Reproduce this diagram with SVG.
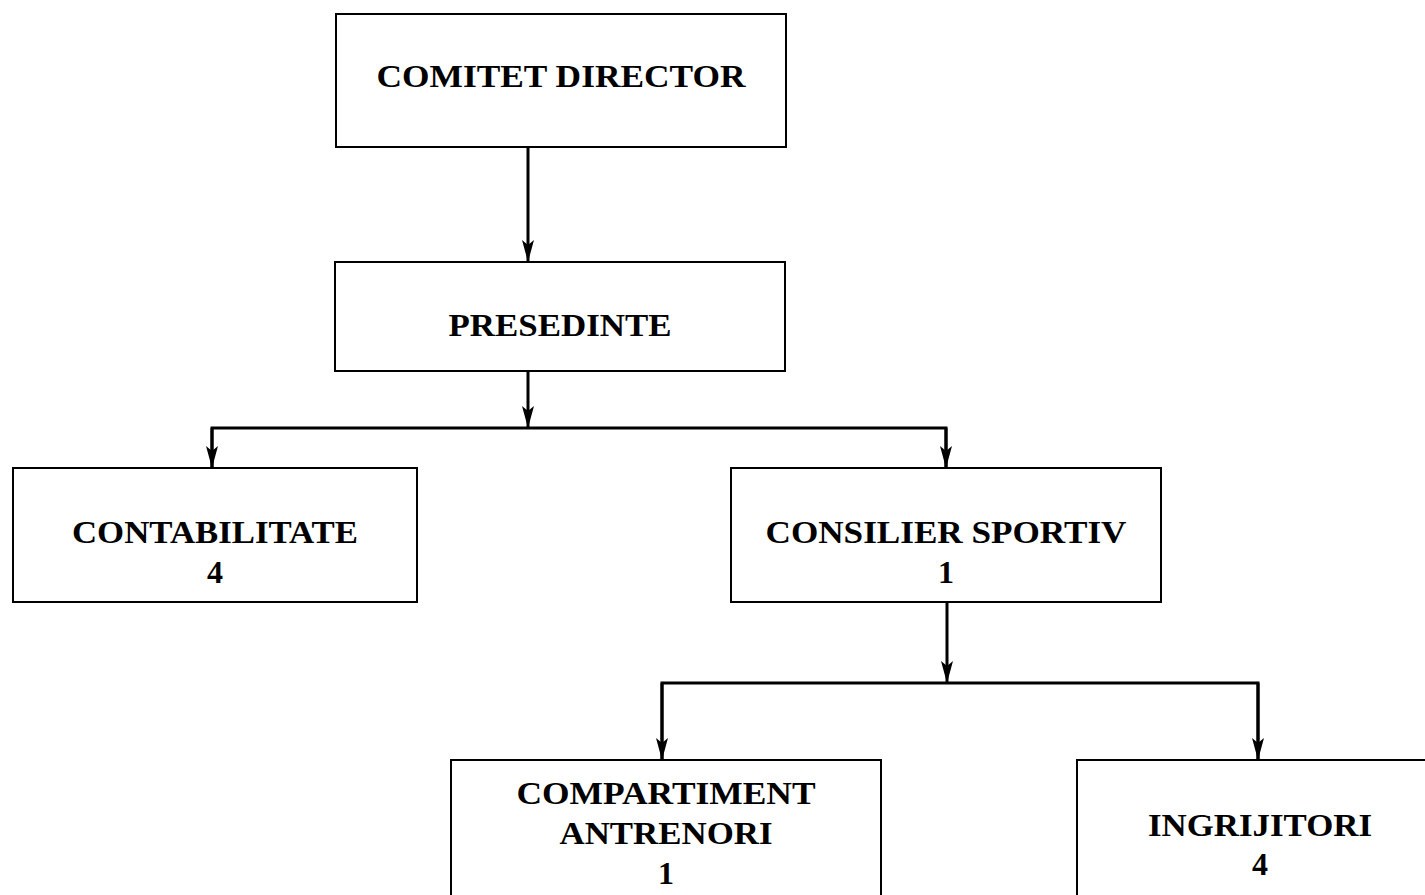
<svg xmlns="http://www.w3.org/2000/svg" width="1425" height="895" viewBox="0 0 1425 895">
<style>
.box{fill:#fff;stroke:#000;stroke-width:2}
.t{font-family:"Liberation Serif","Times New Roman",serif;font-weight:bold;font-size:32px;text-anchor:middle;fill:#000}
.c{fill:none;stroke:#000;stroke-width:3}
</style>
<defs>
<marker id="ah" viewBox="0 0 22 12" refX="22" refY="6" markerWidth="22" markerHeight="12" markerUnits="userSpaceOnUse" orient="auto">
<path d="M0,0 L22,6 L0,12 L5,6 Z" fill="#000"/>
</marker>
</defs>
<rect width="1425" height="895" fill="#fff"/>
<g id="connectors">
<path class="c" d="M528,147 V262" marker-end="url(#ah)"/>
<path class="c" d="M528,371 V428" marker-end="url(#ah)"/>
<path class="c" d="M212,468 V428 H946 V468"/>
<path class="c" d="M212,428 V468" marker-end="url(#ah)"/>
<path class="c" d="M946,428 V468" marker-end="url(#ah)"/>
<path class="c" d="M947,602 V683" marker-end="url(#ah)"/>
<path class="c" d="M662,760 V683 H1258 V760"/>
<path class="c" d="M662,683 V760" marker-end="url(#ah)"/>
<path class="c" d="M1258,683 V760" marker-end="url(#ah)"/>
</g>
<g id="comitet">
<rect class="box" x="336" y="14" width="450" height="133"/>
<text class="t" x="561" y="87" textLength="369" lengthAdjust="spacingAndGlyphs">COMITET DIRECTOR</text>
</g>
<g id="presedinte">
<rect class="box" x="335" y="262" width="450" height="109"/>
<text class="t" x="560" y="336" textLength="223" lengthAdjust="spacingAndGlyphs">PRESEDINTE</text>
</g>
<g id="contabilitate">
<rect class="box" x="13" y="468" width="404" height="134"/>
<text class="t" x="215" y="543" textLength="286" lengthAdjust="spacingAndGlyphs">CONTABILITATE</text>
<text class="t" x="215" y="583">4</text>
</g>
<g id="consilier">
<rect class="box" x="731" y="468" width="430" height="134"/>
<text class="t" x="946" y="543" textLength="361" lengthAdjust="spacingAndGlyphs">CONSILIER SPORTIV</text>
<text class="t" x="946" y="583">1</text>
</g>
<g id="compartiment">
<rect class="box" x="451" y="760" width="430" height="140"/>
<text class="t" x="666" y="804" textLength="299" lengthAdjust="spacingAndGlyphs">COMPARTIMENT</text>
<text class="t" x="666" y="844" textLength="213" lengthAdjust="spacingAndGlyphs">ANTRENORI</text>
<text class="t" x="666" y="884">1</text>
</g>
<g id="ingrijitori">
<rect class="box" x="1077" y="760" width="360" height="140"/>
<text class="t" x="1260" y="836" textLength="224" lengthAdjust="spacingAndGlyphs">INGRIJITORI</text>
<text class="t" x="1260" y="875">4</text>
</g>
</svg>
